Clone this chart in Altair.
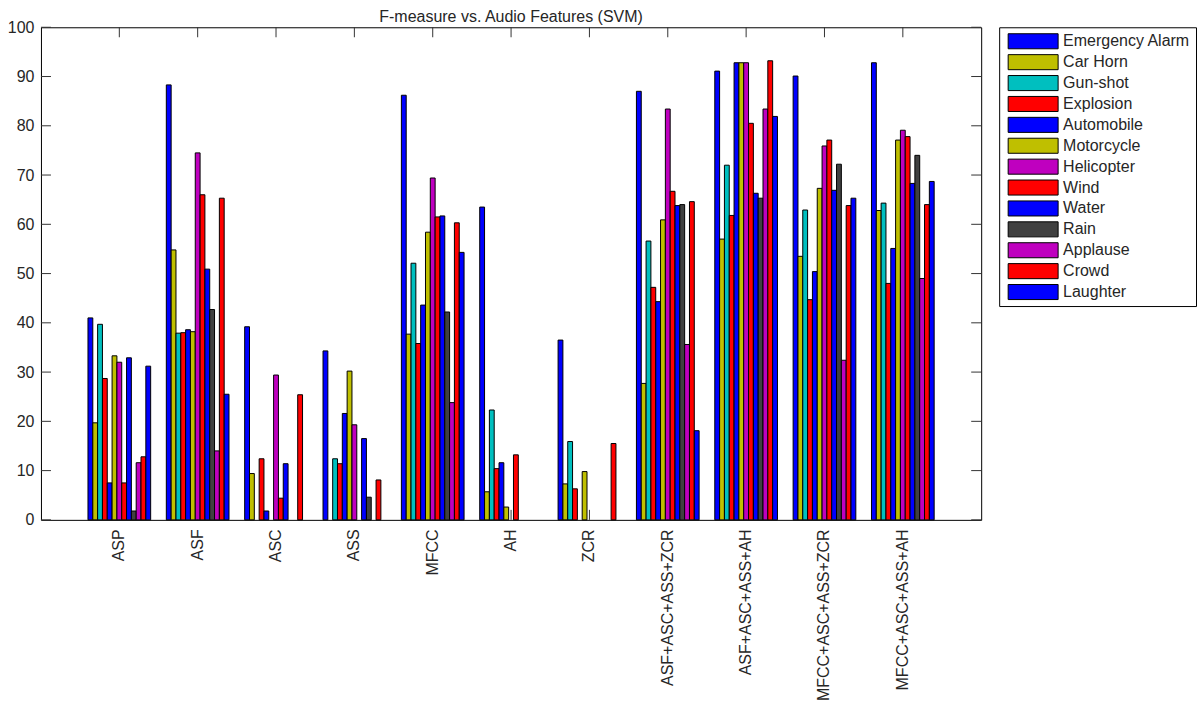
import altair as alt
import pandas as pd

groups = ["ASP", "ASF", "ASC", "ASS", "MFCC", "AH", "ZCR",
          "ASF+ASC+ASS+ZCR", "ASF+ASC+ASS+AH", "MFCC+ASC+ASS+ZCR", "MFCC+ASC+ASS+AH"]
series = ["Emergency Alarm", "Car Horn", "Gun-shot", "Explosion", "Automobile",
          "Motorcycle", "Helicopter", "Wind", "Water", "Rain", "Applause", "Crowd", "Laughter"]
colors = ["#0000FF", "#BFBF00", "#00BFBF", "#FF0000", "#0000FF", "#BFBF00", "#BF00BF",
          "#FF0000", "#0000FF", "#404040", "#BF00BF", "#FF0000", "#0000FF"]

asp = [41.0, 19.7, 39.7, 28.7, 7.5, 33.3, 32.0, 7.5, 32.9, 1.8, 11.6, 12.8, 31.2]
asf = [88.3, 54.8, 37.9, 38.0, 38.6, 38.2, 74.5, 66.0, 50.9, 42.7, 14.0, 65.3, 25.5]
asc = [39.2, 9.4, 0, 12.4, 1.8, 0, 29.4, 4.4, 11.4, 0, 0, 25.4, 0]
ass = [34.3, 0, 12.4, 11.4, 21.6, 30.2, 19.3, 0, 16.5, 4.6, 0, 8.1, 0]
mfcc = [86.2, 37.7, 52.1, 35.8, 43.6, 58.4, 69.4, 61.5, 61.7, 42.2, 23.8, 60.3, 54.3]
ah = [63.5, 5.7, 22.3, 10.4, 11.6, 2.6, 0, 13.2, 0, 0, 0, 0, 0]
zcr = [36.5, 7.3, 15.9, 6.3, 0, 9.8, 0, 0, 0, 0, 0, 15.5, 0]
asf_asc_ass_zcr = [87.0, 27.7, 56.6, 47.2, 44.3, 60.9, 83.4, 66.7, 63.8, 64.0, 35.6, 64.6, 18.1]
asf_asc_ass_ah = [91.1, 57.0, 72.0, 61.8, 92.8, 92.8, 92.8, 80.5, 66.3, 65.3, 83.4, 93.2, 81.9]
mfcc_asc_ass_zcr = [90.1, 53.5, 62.9, 44.7, 50.4, 67.3, 75.9, 77.1, 66.9, 72.2, 32.4, 63.8, 65.3]
mfcc_asc_ass_ah = [92.8, 62.8, 64.3, 48.0, 55.1, 77.1, 79.1, 77.8, 68.3, 74.0, 49.0, 64.0, 68.7]

values_by_group = [asp, asf, asc, ass, mfcc, ah, zcr,
                   asf_asc_ass_zcr, asf_asc_ass_ah, mfcc_asc_ass_zcr, mfcc_asc_ass_ah]

y_ticks = list(range(0, 101, 10))

rows = [{"feature": g, "cls": s, "f": v}
        for g, vals in zip(groups, values_by_group)
        for s, v in zip(series, vals)
        if v > 0]
df = pd.DataFrame(rows)

W, H = 941, 493
FONT = "Liberation Sans"
TXT = "#262626"

xscale = alt.Scale(domain=groups, paddingInner=0.2, paddingOuter=0.6)
yscale = alt.Scale(domain=[0, 100], nice=False, zero=True)
cscale = alt.Scale(domain=series, range=colors)

x_axis = alt.Axis(title=None, labelAngle=270, labelAlign="right", labelBaseline="middle",
                  labelPadding=9, ticks=False, domain=False, labelFont=FONT,
                  labelFontSize=16, labelColor=TXT, labelLimit=400)
y_axis = alt.Axis(title=None, values=y_ticks, ticks=False, domain=False, grid=False,
                  labelFont=FONT, labelFontSize=16, labelColor=TXT, labelPadding=7)

x_enc = alt.X("feature:N", sort=groups, scale=xscale, axis=x_axis)
y_enc = alt.Y("f:Q", scale=yscale, axis=y_axis)

xt = pd.DataFrame({"feature": groups})
yt = pd.DataFrame({"f": y_ticks})

tick_color = "#333333"
top_ticks = alt.Chart(xt).mark_rule(color=tick_color, strokeWidth=1).encode(
    x=x_enc, y=alt.value(0), y2=alt.value(10))
bottom_ticks = alt.Chart(xt).mark_rule(color=tick_color, strokeWidth=1).encode(
    x=x_enc, y=alt.value(H - 10), y2=alt.value(H))
left_ticks = alt.Chart(yt).mark_rule(color=tick_color, strokeWidth=1).encode(
    y=y_enc, x=alt.value(0), x2=alt.value(10))
right_ticks = alt.Chart(yt).mark_rule(color=tick_color, strokeWidth=1).encode(
    y=y_enc, x=alt.value(W - 10), x2=alt.value(W))

bars = alt.Chart(df).mark_bar(stroke="black", strokeWidth=1).encode(
    x=x_enc,
    xOffset=alt.XOffset("cls:N", sort=series,
                        scale=alt.Scale(domain=series, paddingInner=0, paddingOuter=0)),
    y=y_enc,
    color=alt.Color("cls:N", scale=cscale, legend=None),
)

main = alt.layer(top_ticks, bottom_ticks, left_ticks, right_ticks, bars).properties(
    width=W, height=H,
    title=alt.Title("F-measure vs. Audio Features (SVM)", font=FONT, fontSize=16,
                    fontWeight="normal", color=TXT, offset=-6, anchor="middle"),
)

leg_df = pd.DataFrame({"cls": series})
leg_y = alt.Y("cls:N", sort=series,
              scale=alt.Scale(domain=series, paddingInner=0.28, paddingOuter=0.31),
              axis=None)
swatch = alt.Chart(leg_df).mark_rect(stroke="black", strokeWidth=1).encode(
    y=leg_y, x=alt.value(9), x2=alt.value(59),
    color=alt.Color("cls:N", scale=cscale, legend=None),
)
labels = alt.Chart(leg_df).mark_text(align="left", baseline="middle", font=FONT,
                                     fontSize=16, color=TXT).encode(
    y=leg_y, x=alt.value(64), text="cls:N")
legend = alt.layer(swatch, labels).properties(width=197, height=279)

chart = alt.hconcat(main, legend, spacing=18, bounds="flush").resolve_scale(
    y="independent", x="independent", color="shared"
).properties(
    padding={"left": 6, "top": 8, "right": 1, "bottom": 0},
    background="white",
).configure_view(stroke="black", strokeWidth=1)

chart.save("out.html", embed_options={"renderer": "svg", "actions": False})
